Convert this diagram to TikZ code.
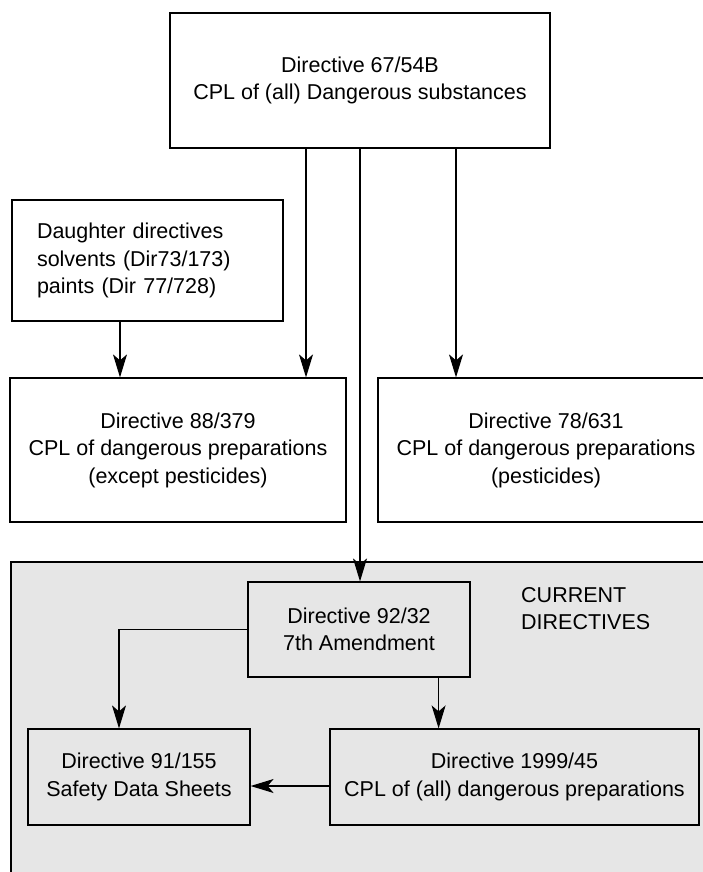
\documentclass[tikz,border=0pt]{standalone}
\usepackage{fontspec}
\setmainfont{Liberation Sans}
\usepackage{tikz}
\usetikzlibrary{arrows.meta, positioning}
\definecolor{dirgrey}{HTML}{E6E6E6}

\begin{document}
\begin{tikzpicture}[
    x=1pt, y=-1pt, font=\fontsize{21.5}{27.5}\selectfont,
    box/.style={draw, fill=white, line width=1.2pt, align=center, inner sep=0pt},
    curbox/.style={box, fill=dirgrey},
    arr/.style={-{Stealth[length=23pt, width=14pt, inset=6pt]}, line width=1.1pt}
]
\useasboundingbox (0,0) rectangle (703,872);
\clip (0,0) rectangle (703,872);
% grey area for the current directives
\draw[fill=dirgrey, line width=1.2pt] (11,562) rectangle (740,900);
\node[box, minimum width=380pt, minimum height=135pt] (subst) at (360,80.5)
    {Directive 67/54B\\CPL of (all) Dangerous substances};
\node[box, align=left, text width=221pt, inner xsep=25pt, minimum height=121pt] (daughter) at (147.5,260.5)
    {Daughter directives\\solvents (Dir73/173)\\paints (Dir 77/728)};
\node[box, minimum width=336pt, minimum height=144pt] (prep88) at (178,450)
    {Directive 88/379\\CPL of dangerous preparations\\(except pesticides)};
\node[box, minimum width=336pt, minimum height=144pt] (pest) at (546,450)
    {Directive 78/631\\CPL of dangerous preparations\\(pesticides)};
\node[curbox, minimum width=222pt, minimum height=95pt] (amend) at (359,629.5)
    {Directive 92/32\\7th Amendment};
\node[anchor=west, align=left, inner sep=0pt] (curlbl) at (521,608.5)
    {CURRENT\\DIRECTIVES};
\node[curbox, minimum width=222pt, minimum height=96pt] (sds) at (139,777)
    {Directive 91/155\\Safety Data Sheets};
\node[curbox, minimum width=369pt, minimum height=96pt] (prep99) at (514.5,777)
    {Directive 1999/45\\CPL of (all) dangerous preparations};
% connectors
\foreach \s/\b in {-54/prep88,0/amend,96/pest}
    \draw[arr] ([xshift=\s pt]subst.south) -- ([xshift=\s pt]subst.south |- \b.north);
\draw[arr] ([xshift=-27.5pt]daughter.south) -- ([xshift=-27.5pt]daughter.south |- prep88.north);
\draw[arr] (amend.west) -| ([xshift=-20pt]sds.north);
\draw[arr] ([xshift=-32pt]amend.south east) -- ([xshift=-32pt]amend.south east |- prep99.north);
\draw[arr] ([yshift=-9pt]prep99.west) -- ([yshift=-9pt]prep99.west -| sds.east);
\end{tikzpicture}
\end{document}
